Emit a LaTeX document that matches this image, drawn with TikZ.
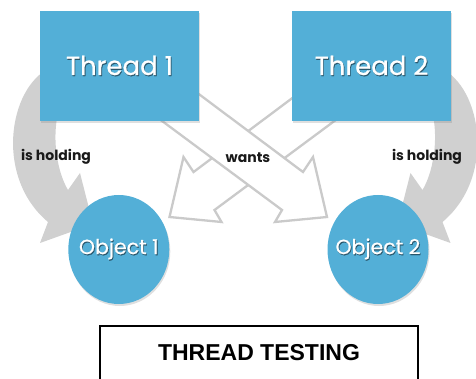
\documentclass[tikz,border=0pt]{standalone}
\usepackage{fontspec}
\setmainfont{Poppins}
\newfontfamily\blockfont[FakeBold=0.7]{Poppins}
\newfontfamily\titlefont{Liberation Sans}
\usetikzlibrary{shapes.geometric,shadows}

\definecolor{tblue}{RGB}{83,175,215}
\definecolor{bandgray}{RGB}{208,208,208}
\definecolor{edgegray}{RGB}{202,202,202}

% white label with a soft dark copy just below it
\newcommand\liftedtext[1]{\makebox[0pt][l]{\hspace{0.8pt}\raisebox{-1.1pt}{\textcolor{tblue!50!black}{#1}}}#1}
% same, but taking no width so the shape keeps its own size
\newcommand\flatlabel[1]{\makebox[0pt]{\liftedtext{#1}}}

% curved "is holding" band arrow, left-hand version
\newcommand\holdband{%
  \fill[bandgray]
    (55,66) .. controls (10,80) and (-8,175) .. (48,222)
    -- (40,243) -- (93,224) -- (80,173) -- (68,190)
    .. controls (56,170) and (50,130) .. (62,100) -- cycle;}

% outlined "wants" block arrow, pointing down-right
\newcommand\wantshape{%
  \draw[fill=white, draw=edgegray, line width=2.3pt, line join=miter]
    (160,65) -- (303,172) -- (313,157) -- (327,217)
    -- (275,222) -- (282,210) -- (123,92) -- cycle;}

\begin{document}
\begin{tikzpicture}[x=1pt,y=-1pt,
  threadbox/.style={rectangle, fill=tblue, minimum width=159pt, minimum height=110pt,
    inner sep=0pt, text=white, font=\blockfont\fontsize{26}{31}\selectfont,
    drop shadow={shadow xshift=1pt, shadow yshift=-2pt, opacity=0.25}},
  objnode/.style={ellipse, fill=tblue, minimum width=101pt, minimum height=109pt,
    inner sep=0pt, text=white, font=\blockfont\fontsize{20.5}{25}\selectfont,
    drop shadow={shadow xshift=1pt, shadow yshift=-2pt, opacity=0.25}},
  caption/.style={font=\fontsize{14}{17}\selectfont\bfseries, text=black!90},
  titleframe/.style={draw=black, line width=1.8pt, fill=white,
    minimum width=318pt, minimum height=70pt, anchor=north, inner sep=0pt},
  titletext/.style={font=\titlefont\fontsize{23}{28}\selectfont\bfseries, text=black}
]
\useasboundingbox (0,0) rectangle (476,379);

% holding bands behind the boxes
\holdband
\begin{scope}[shift={(490.5,0)}, xscale=-1]
  \holdband
\end{scope}

% crossing "wants" arrows; the one from Thread 1 lies on top
\begin{scope}[shift={(496.5,0)}, xscale=-1]
  \wantshape
\end{scope}
\wantshape

% threads and objects
\node[threadbox] (t1) at (119.5,66) {\liftedtext{Thread 1}};
\node[threadbox] (t2) at (371.5,66) {\liftedtext{Thread 2}};
\node[objnode] (o1) at (118.8,249.5) {\flatlabel{Object 1}};
\node[objnode] (o2) at (378,249.5) {\flatlabel{Object 2}};

% relation labels
\node[caption] (h1) at (56,157) {is holding};
\node[caption] (h2) at (427,157) {is holding};
\node[caption] (w) at (248,158) {wants};

% caption box
\node[titleframe] (frame) at (259,325) {};
\node[titletext] (title) at (259,353) {THREAD TESTING};
\end{tikzpicture}
\end{document}
